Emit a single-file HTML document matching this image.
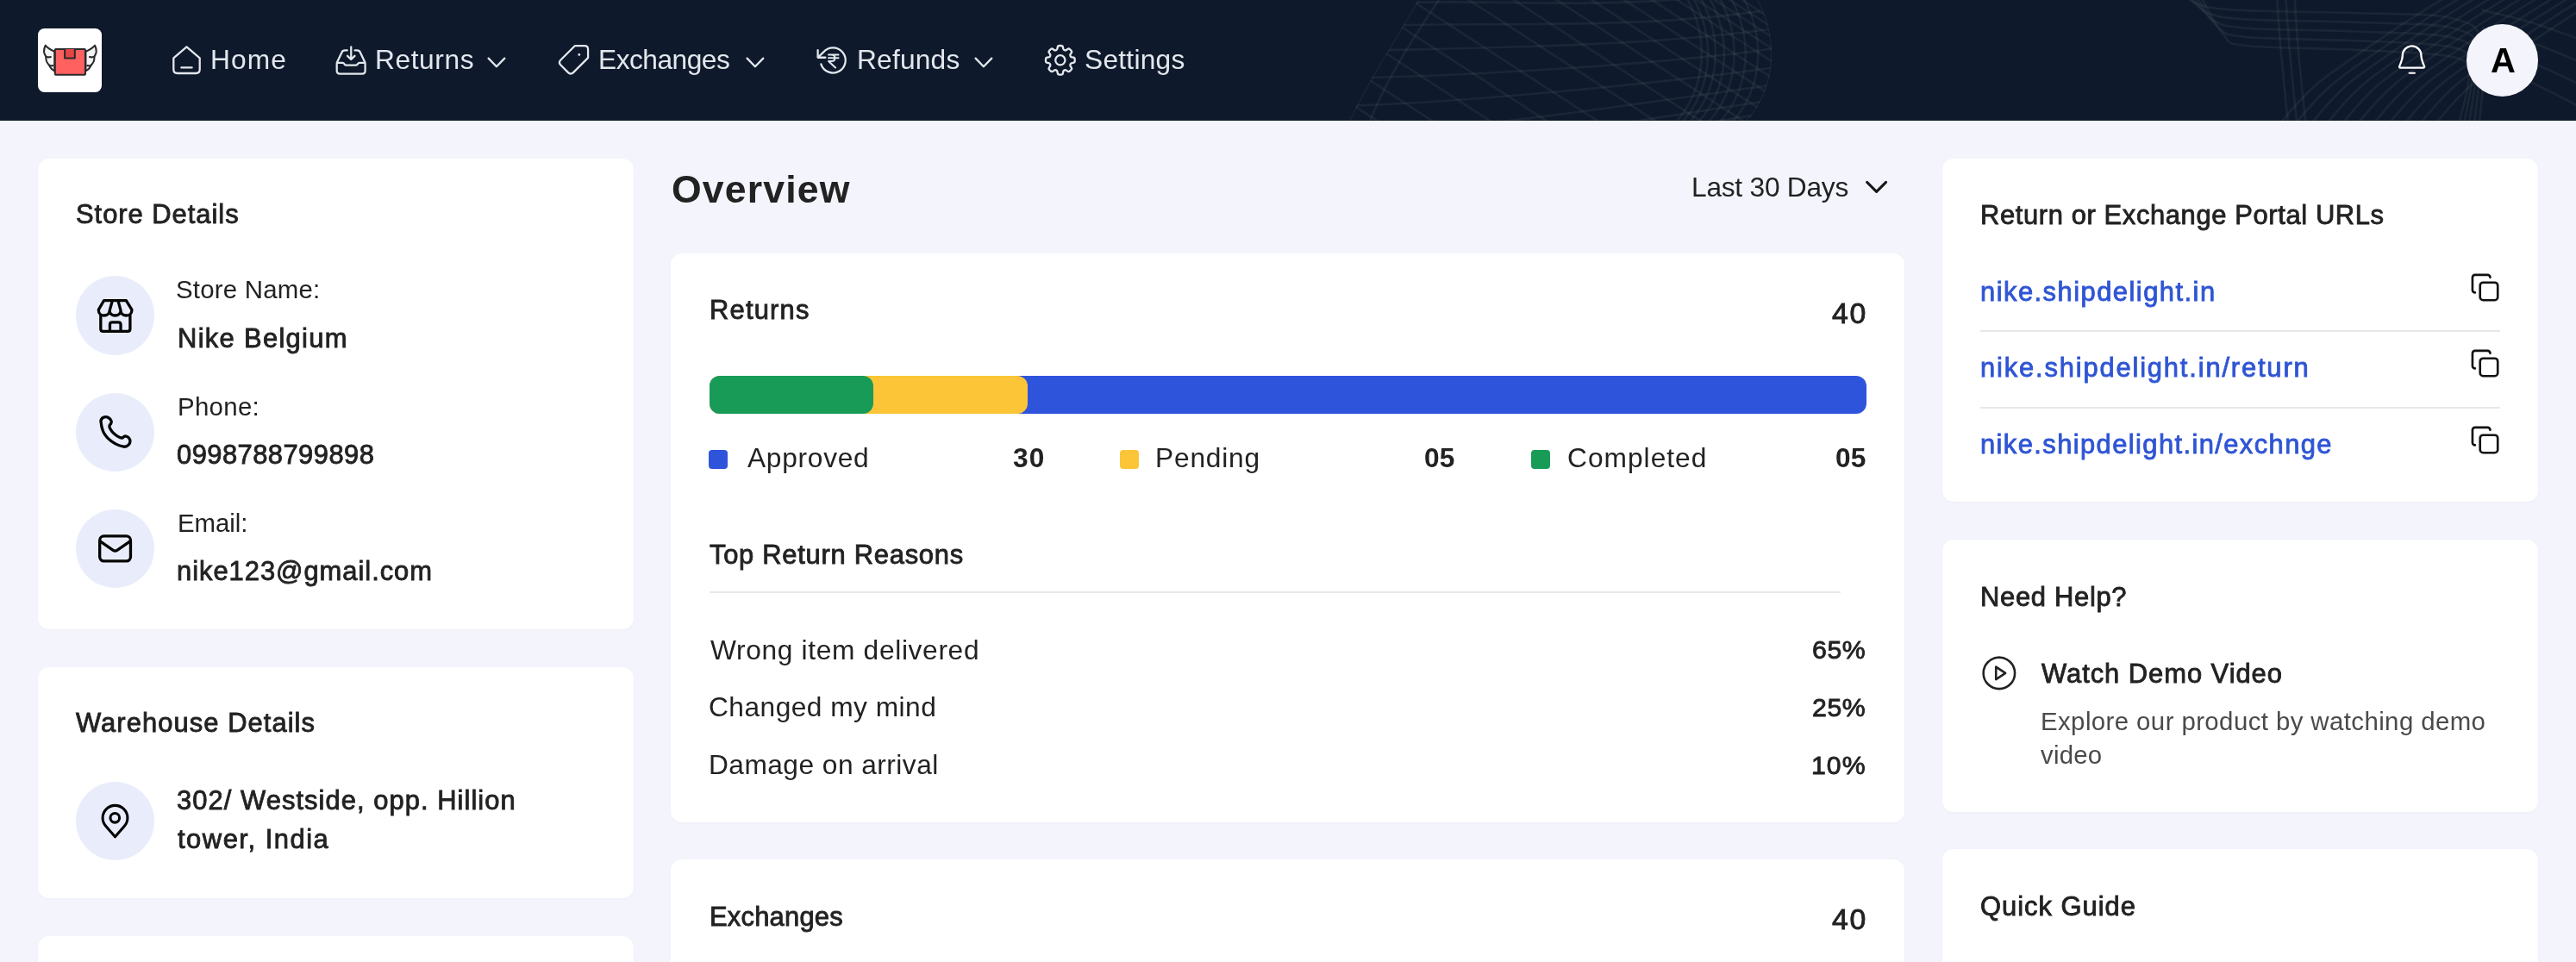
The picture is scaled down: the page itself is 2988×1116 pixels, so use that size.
<!DOCTYPE html>
<html lang="en"><head><meta charset="utf-8"><title>Dashboard</title>
<style>
*{box-sizing:border-box;margin:0;padding:0}
html,body{width:2988px;height:1116px;overflow:hidden;background:#f3f4fc;font-family:"Liberation Sans",sans-serif}
#page{position:relative;width:2988px;height:1116px;overflow:hidden;background:#f3f4fc}
.t{will-change:transform;position:absolute;white-space:nowrap;line-height:1;font-family:"Liberation Sans",sans-serif}
.card{position:absolute;background:#fff;border-radius:13px;box-shadow:0 1px 4px rgba(20,30,60,0.025)}
.abs{position:absolute}
nav{position:absolute;left:0;top:0;width:2988px;height:140px;background:#0e1a2b;overflow:hidden}
.ic{position:absolute;border-radius:50%;background:#e9edfb}
.hr{position:absolute;height:2px;background:#e8e8e8}
svg{position:absolute;overflow:visible}
</style></head><body><div id="page">
<nav>
<svg style="left:0;top:0" width="2988" height="140" viewBox="0 0 2988 140" fill="none" stroke="#ffffff" stroke-opacity="0.05" stroke-width="2.7"><clipPath id="c1"><path d="M1562.6 145.6 C1584.4 96.1 1620.8 43.7 1647.0 -4.4 L2037.1 -4.4 C2070.6 55.3 2053.1 116.4 2021.1 145.6 Z"/></clipPath><g clip-path="url(#c1)"><path d="M1358.2 -15.1 L1614.8 151.4"/><path d="M1422.0 -15.1 L1678.6 151.4"/><path d="M1488.9 -15.1 L1745.6 151.4"/><path d="M1554.1 -15.1 L1810.8 151.4"/><path d="M1613.5 -15.1 L1870.2 151.4"/><path d="M1680.5 -15.1 L1937.1 151.4"/><path d="M1732.9 -15.1 L1989.5 151.4"/><path d="M1782.4 -15.1 L2039.0 151.4"/><path d="M1823.1 -15.1 L2079.8 151.4"/><path d="M1861.0 -15.1 L2117.6 151.4"/><path d="M1893.0 -15.1 L2149.6 151.4"/><path d="M1922.1 -15.1 L2178.7 151.4"/><path d="M1945.4 -15.1 L2202.0 151.4"/><path d="M1965.8 -15.1 L2222.4 151.4"/><path d="M1983.3 -15.1 L2239.9 151.4"/><path d="M1997.8 -15.1 L2254.4 151.4"/><path d="M1639.7 2.9 C1756.2 0.0 1875.5 11.6 2021.1 -8.7"/><path d="M1622.3 29.1 C1738.7 26.2 1895.9 33.5 2041.5 13.1"/><path d="M1601.9 58.2 C1718.3 55.3 1910.5 53.9 2056.0 33.5"/><path d="M1584.4 90.2 C1700.9 87.3 1920.7 75.7 2066.2 55.3"/><path d="M1569.9 122.3 C1686.3 119.4 1922.1 97.5 2067.7 77.1"/><path d="M1558.2 157.2 C1674.7 154.3 1917.8 117.9 2063.3 97.5"/><path d="M1721.3 157.2 C1837.7 154.3 1910.5 136.8 2056.0 116.4"/><path d="M1887.2 157.2 C2003.6 154.3 1898.8 152.8 2044.4 132.5"/><path d="M2037.1 -4.4 C2070.6 55.3 2053.1 116.4 2021.1 145.6"/><path d="M2021.1 -4.4 C2054.6 55.3 2037.1 116.4 2005.1 145.6"/><path d="M2006.6 -4.4 C2040.0 55.3 2022.6 116.4 1990.5 145.6"/><path d="M1993.4 -4.4 C2026.9 55.3 2009.5 116.4 1977.4 145.6"/><path d="M1981.8 -4.4 C2015.3 55.3 1997.8 116.4 1965.8 145.6"/><path d="M1971.6 -4.4 C2005.1 55.3 1987.6 116.4 1955.6 145.6"/><path d="M1962.9 -4.4 C1996.4 55.3 1978.9 116.4 1946.9 145.6"/><path d="M1955.6 -4.4 C1989.1 55.3 1971.6 116.4 1939.6 145.6"/><path d="M1562.6 145.6 C1584.4 96.1 1620.8 43.7 1647.0 -4.4"/><path d="M1587.3 145.6 C1604.8 96.1 1639.7 43.7 1671.8 -4.4"/></g><path d="M2530.6 -7.3 C2534.5 -5.0 2541.5 3.2 2553.9 6.4 C2566.2 9.7 2575.0 10.8 2604.8 12.2 C2634.7 13.7 2693.1 13.7 2732.9 15.1 C2772.7 16.6 2819.0 15.0 2843.5 21.0 C2868.0 26.9 2874.6 29.9 2879.9 50.9 C2885.3 72.0 2876.3 131.0 2875.6 147.0"/><path d="M2535.7 -7.3 C2539.7 -3.6 2548.5 9.6 2560.0 14.6 C2571.5 19.5 2576.0 20.5 2604.8 22.4 C2633.6 24.3 2693.1 24.2 2732.9 25.8 C2772.7 27.5 2819.7 26.5 2843.5 32.2 C2867.4 37.9 2871.5 41.0 2875.8 60.1 C2880.2 79.3 2870.5 132.5 2869.4 147.0"/><path d="M2540.8 -7.3 C2545.0 -2.3 2555.4 16.1 2566.1 22.7 C2576.8 29.4 2577.0 30.3 2604.8 32.6 C2632.6 34.9 2693.1 34.7 2732.9 36.5 C2772.7 38.3 2820.4 37.9 2843.5 43.4 C2866.7 48.8 2868.5 52.0 2871.8 69.3 C2875.1 86.6 2864.7 134.1 2863.3 147.0"/><path d="M2545.9 -7.3 C2550.3 -0.9 2562.4 22.5 2572.2 30.9 C2582.0 39.2 2578.0 40.1 2604.8 42.8 C2631.6 45.5 2693.1 45.3 2732.9 47.2 C2772.7 49.2 2821.1 49.4 2843.5 54.6 C2866.0 59.8 2865.4 63.1 2867.7 78.5 C2870.0 93.9 2859.0 135.6 2857.2 147.0"/><path d="M2551.0 -7.3 C2555.5 0.4 2569.3 29.0 2578.3 39.0 C2587.3 49.1 2579.0 49.8 2604.8 53.0 C2630.6 56.1 2693.1 55.8 2732.9 57.9 C2772.7 60.1 2821.7 60.8 2843.5 65.8 C2865.3 70.7 2862.4 74.1 2863.6 87.6 C2864.9 101.2 2853.2 137.1 2851.1 147.0"/><path d="M2642.7 145.6 C2650.4 137.3 2666.9 114.5 2689.2 96.1 C2711.6 77.6 2751.3 51.9 2776.6 34.9 C2801.8 18.0 2829.9 1.0 2840.6 -5.8"/><path d="M2660.7 145.6 C2668.5 137.3 2685.0 114.5 2707.3 96.1 C2729.6 77.6 2769.4 51.9 2794.6 34.9 C2819.9 18.0 2848.0 1.0 2858.7 -5.8"/><path d="M2678.8 145.6 C2686.5 137.3 2703.0 114.5 2725.3 96.1 C2747.7 77.6 2787.4 51.9 2812.7 34.9 C2837.9 18.0 2866.0 1.0 2876.7 -5.8"/><path d="M2696.8 145.6 C2704.6 137.3 2721.1 114.5 2743.4 96.1 C2765.7 77.6 2805.5 51.9 2830.7 34.9 C2856.0 18.0 2884.1 1.0 2894.8 -5.8"/><path d="M2714.9 145.6 C2722.6 137.3 2739.1 114.5 2761.4 96.1 C2783.8 77.6 2823.5 51.9 2848.8 34.9 C2874.0 18.0 2902.1 1.0 2912.8 -5.8"/><path d="M2732.9 145.6 C2740.7 137.3 2757.2 114.5 2779.5 96.1 C2801.8 77.6 2841.6 51.9 2866.8 34.9 C2892.1 18.0 2920.2 1.0 2930.9 -5.8"/><path d="M2751.0 145.6 C2758.7 137.3 2775.2 114.5 2797.5 96.1 C2819.9 77.6 2859.6 51.9 2884.9 34.9 C2910.1 18.0 2938.2 1.0 2948.9 -5.8"/><path d="M2769.0 145.6 C2776.8 137.3 2793.3 114.5 2815.6 96.1 C2837.9 77.6 2877.7 51.9 2902.9 34.9 C2928.2 18.0 2956.3 1.0 2967.0 -5.8"/><path d="M2787.1 145.6 C2794.8 137.3 2811.3 114.5 2833.6 96.1 C2856.0 77.6 2895.7 51.9 2921.0 34.9 C2946.2 18.0 2974.3 1.0 2985.0 -5.8"/><path d="M2805.1 145.6 C2812.9 137.3 2829.4 114.5 2851.7 96.1 C2874.0 77.6 2913.8 51.9 2939.0 34.9 C2964.2 18.0 2992.4 1.0 3003.1 -5.8"/><path d="M2823.2 145.6 C2830.9 137.3 2847.4 114.5 2869.7 96.1 C2892.1 77.6 2931.8 51.9 2957.1 34.9 C2982.3 18.0 3010.4 1.0 3021.1 -5.8"/><path d="M2641.2 -2.9 C2641.9 7.3 2643.4 33.5 2645.6 58.2 C2647.8 83.0 2652.8 131.0 2654.3 145.6"/><path d="M2651.4 -2.9 C2652.1 7.3 2653.6 33.5 2655.8 58.2 C2657.9 83.0 2663.0 131.0 2664.5 145.6"/><path d="M2661.6 -2.9 C2662.3 7.3 2663.8 33.5 2665.9 58.2 C2668.1 83.0 2673.2 131.0 2674.7 145.6"/><path d="M2878.5 11.6 C2888.2 14.1 2917.3 20.4 2936.7 26.2 C2956.1 32.0 2985.2 43.2 2994.9 46.6"/><path d="M2878.5 32.0 C2888.2 34.9 2917.3 42.7 2936.7 49.5 C2956.1 56.3 2985.2 68.9 2994.9 72.8"/><path d="M2878.5 52.4 C2888.2 55.8 2917.3 65.0 2936.7 72.8 C2956.1 80.5 2985.2 94.6 2994.9 99.0"/><path d="M2878.5 72.8 C2888.2 76.7 2917.3 87.3 2936.7 96.1 C2956.1 104.8 2985.2 120.3 2994.9 125.2"/></svg>
</nav>
<div class="abs" style="left:43.8px;top:32.8px;width:74.4px;height:74.4px;border-radius:7.5px;background:#fff"></div>
<svg style="left:36px;top:25px" width="100" height="100" viewBox="0 0 1068.900 1068.900"><g stroke="#2a2a2c" stroke-width="22" stroke-linejoin="round" stroke-linecap="round"><path d="M292 372 C250 352 205 326 178 296 C150 352 160 400 186 436 C180 472 196 512 226 542 C238 572 262 600 292 612 Z" fill="#f3f3f3"/><path d="M186 436 C206 443 226 444 244 438 M226 542 C242 548 258 550 272 546" fill="none"/><g transform="translate(970,0) scale(-1,1)"><path d="M292 372 C250 352 205 326 178 296 C150 352 160 400 186 436 C180 472 196 512 226 542 C238 572 262 600 292 612 Z" fill="#f3f3f3"/><path d="M186 436 C206 443 226 444 244 438 M226 542 C242 548 258 550 272 546" fill="none"/></g><rect x="297" y="342" width="376" height="318" rx="10" fill="#ff6060"/><path d="M418 342 L418 455 L543 455 L543 342" fill="#e64646"/><rect x="440" y="360" width="82" height="76" fill="#e64646" stroke="none"/></g></svg>
<svg style="left:0;top:0" width="300" height="140" fill="none" stroke="#e3e7ee" stroke-width="2.3" stroke-linecap="round" stroke-linejoin="round"><path d="M216.5 54.3 L231.7 67.3 L231.7 80.6 Q231.7 85 227.3 85 L205.7 85 Q201.3 85 201.3 80.6 L201.3 67.3 Z"/><path d="M210.4 78.4 L222.6 78.4"/></svg>
<svg style="left:380px;top:40px" width="100" height="100" viewBox="0 0 990.800 990.800"><path d="M225 183 L200 183 Q172 183 162 208 L110 318 Q106 328 106 340 L106 415 Q106 451 142 451 L396 451 Q432 451 432 415 L432 340 Q432 328 428 318 L376 208 Q366 183 338 183 L313 183 M106 326 L172 326 Q184 326 190 336 L198 346 Q203 352 214 352 L324 352 Q335 352 340 346 L348 336 Q354 326 366 326 L432 326 M270 142 L270 286 M228 246 L270 288 L312 246" fill="none" stroke="#e3e7ee" stroke-width="22.5" stroke-linecap="round" stroke-linejoin="round"/></svg>
<svg style="left:640px;top:40px" width="100" height="100" viewBox="0 0 990.800 990.800"><path d="M262.2 133.8 Q265.0 131.0 269.0 131.0 L377.0 131.0 Q417.0 131.0 417.0 171.0 L417.0 264.0 Q417.0 268.0 414.2 270.8 L247.7 437.3 Q218.0 467.0 188.3 437.3 L103.2 352.2 Q73.5 322.5 103.2 292.8 Z" fill="none" stroke="#e3e7ee" stroke-width="22.5" stroke-linejoin="round"/><circle cx="315" cy="232" r="14" fill="#e3e7ee"/></svg>
<svg style="left:935px;top:40px" width="100" height="100" viewBox="0 0 990.800 990.800"><g fill="none" stroke="#e3e7ee" stroke-linecap="round" stroke-linejoin="round"><path d="M135 265 L198 205 A144 144 0 1 1 172 340 M135 180 L135 265 L222 265" stroke-width="22.5"/><path d="M258 232 H372 M258 270 H372 M258 232 H292 C345 232 345 308 292 308 H258 L338 382" stroke-width="20"/></g></svg>
<svg style="left:1213.40px;top:53.20px" width="33.70" height="33.60" viewBox="3 3 18 18" preserveAspectRatio="none" fill="none" stroke="#e3e7ee" stroke-width="2.3" stroke-linecap="round" stroke-linejoin="round"><path d="M10.343 3.94c.09-.542.56-.94 1.11-.94h1.093c.55 0 1.02.398 1.11.94l.149.894c.07.424.384.764.78.93.398.164.855.142 1.205-.108l.737-.527a1.125 1.125 0 0 1 1.45.12l.773.774c.39.389.44 1.002.12 1.45l-.527.737c-.25.35-.272.806-.107 1.204.165.397.505.71.93.78l.893.15c.543.09.94.559.94 1.109v1.094c0 .55-.397 1.02-.94 1.11l-.894.149c-.424.07-.764.383-.929.78-.165.398-.143.854.107 1.204l.527.738c.32.447.269 1.06-.12 1.45l-.774.773a1.125 1.125 0 0 1-1.449.12l-.738-.527c-.35-.25-.806-.272-1.203-.107-.398.165-.71.505-.781.929l-.149.894c-.09.542-.56.94-1.11.94h-1.094c-.55 0-1.019-.398-1.11-.94l-.148-.894c-.071-.424-.384-.764-.781-.93-.398-.164-.854-.142-1.204.108l-.738.527c-.447.32-1.06.269-1.45-.12l-.773-.774a1.125 1.125 0 0 1-.12-1.45l.527-.737c.25-.35.272-.806.108-1.204-.165-.397-.506-.71-.93-.78l-.894-.15c-.542-.09-.94-.56-.94-1.109v-1.094c0-.55.398-1.02.94-1.11l.894-.149c.424-.07.765-.383.93-.78.165-.398.143-.854-.108-1.204l-.526-.738a1.125 1.125 0 0 1 .12-1.45l.773-.773a1.125 1.125 0 0 1 1.45-.12l.737.527c.35.25.807.272 1.204.107.397-.165.71-.505.78-.929l.15-.894Z" vector-effect="non-scaling-stroke"/><path d="M15 12a3 3 0 1 1-6 0 3 3 0 0 1 6 0Z" vector-effect="non-scaling-stroke"/></svg>
<svg style="left:560.0px;top:60px" width="32" height="24" fill="none" stroke="#e3e7ee" stroke-width="2.3" stroke-linecap="round" stroke-linejoin="round"><path d="M6.6 7.6 L15.9 17.2 L25.3 7.6"/></svg>
<svg style="left:859.9px;top:60px" width="32" height="24" fill="none" stroke="#e3e7ee" stroke-width="2.3" stroke-linecap="round" stroke-linejoin="round"><path d="M6.6 7.6 L15.9 17.2 L25.3 7.6"/></svg>
<svg style="left:1124.6px;top:60px" width="32" height="24" fill="none" stroke="#e3e7ee" stroke-width="2.3" stroke-linecap="round" stroke-linejoin="round"><path d="M6.6 7.6 L15.9 17.2 L25.3 7.6"/></svg>
<svg style="left:2760px;top:20px" width="100" height="100" viewBox="0 0 962.000 962.000"><path d="M237 563 L487 563 Q507 563 500 545 C484 508 466 470 466 426 A104 104 0 0 0 258 426 C258 470 240 508 224 545 Q217 563 237 563 Z" fill="none" stroke="#fff" stroke-width="22" stroke-linejoin="round"/><path d="M333 623 L393 623" stroke="#fff" stroke-width="21" stroke-linecap="round"/></svg>
<span class="t" style="left:244.10px;top:53.55px;font-size:31.7px;font-weight:normal;color:#e3e7ee;letter-spacing:1.140px;">Home</span>
<span class="t" style="left:435.40px;top:53.55px;font-size:31.7px;font-weight:normal;color:#e3e7ee;letter-spacing:0.600px;">Returns</span>
<span class="t" style="left:694.00px;top:53.55px;font-size:31.7px;font-weight:normal;color:#e3e7ee;letter-spacing:-0.502px;">Exchanges</span>
<span class="t" style="left:994.20px;top:53.55px;font-size:31.7px;font-weight:normal;color:#e3e7ee;letter-spacing:0.210px;">Refunds</span>
<span class="t" style="left:1257.60px;top:53.55px;font-size:31.7px;font-weight:normal;color:#e3e7ee;letter-spacing:0.257px;">Settings</span>
<div class="abs" style="left:2861px;top:28.2px;width:83.4px;height:83.4px;border-radius:50%;background:#f3f4fc"></div>
<span class="t" style="left:2889.30px;top:50.20px;font-size:40px;font-weight:bold;color:#000;letter-spacing:0.000px;">A</span>
<div class="card" style="left:44px;top:184px;width:691px;height:546px"></div>
<span class="t" style="left:87.50px;top:234.03px;font-size:30.91px;font-weight:normal;color:#222222;letter-spacing:0.978px;-webkit-text-stroke:0.85px #222222;">Store Details</span>
<div class="ic" style="left:87.7px;top:320.4px;width:91.5px;height:91.5px"></div>
<span class="t" style="left:204.20px;top:321.31px;font-size:29.4px;font-weight:normal;color:#222222;letter-spacing:0.216px;">Store Name:</span>
<span class="t" style="left:205.90px;top:377.63px;font-size:30.91px;font-weight:normal;color:#222222;letter-spacing:1.309px;-webkit-text-stroke:0.85px #222222;">Nike Belgium</span>
<div class="ic" style="left:87.7px;top:455.6px;width:91.5px;height:91.5px"></div>
<span class="t" style="left:205.70px;top:456.51px;font-size:29.4px;font-weight:normal;color:#222222;letter-spacing:0.324px;">Phone:</span>
<span class="t" style="left:205.40px;top:512.83px;font-size:30.91px;font-weight:normal;color:#222222;letter-spacing:0.450px;-webkit-text-stroke:0.85px #222222;">0998788799898</span>
<div class="ic" style="left:87.7px;top:590.8px;width:91.5px;height:91.5px"></div>
<span class="t" style="left:205.70px;top:591.71px;font-size:29.4px;font-weight:normal;color:#222222;letter-spacing:-0.036px;">Email:</span>
<span class="t" style="left:205.40px;top:648.03px;font-size:30.91px;font-weight:normal;color:#222222;letter-spacing:0.972px;-webkit-text-stroke:0.85px #222222;">nike123@gmail.com</span>
<div class="card" style="left:44px;top:774px;width:691px;height:268px"></div>
<span class="t" style="left:87.90px;top:824.43px;font-size:30.91px;font-weight:normal;color:#222222;letter-spacing:1.064px;-webkit-text-stroke:0.85px #222222;">Warehouse Details</span>
<div class="ic" style="left:87.7px;top:906.7px;width:91.5px;height:91.5px"></div>
<span class="t" style="left:205.20px;top:914.43px;font-size:30.91px;font-weight:normal;color:#222222;letter-spacing:1.051px;-webkit-text-stroke:0.85px #222222;">302/ Westside, opp. Hillion</span>
<span class="t" style="left:206.20px;top:958.93px;font-size:30.91px;font-weight:normal;color:#222222;letter-spacing:1.516px;-webkit-text-stroke:0.85px #222222;">tower, India</span>
<svg style="left:80px;top:310px" width="100" height="100" viewBox="0 0 874.500 874.500"><g fill="none" stroke="#050505" stroke-width="29" stroke-linecap="round" stroke-linejoin="round"><path d="M300 432 L355 337 L580 337 L638 432 C638 470 612 490 582 490 C550 490 525 470 525 440 C525 470 500 490 468 490 C436 490 412 470 412 440 C412 470 386 490 355 490 C325 490 300 470 300 432 Z M440 340 L413 438 M498 340 L525 438 M322 482 L322 625 Q322 650 347 650 L595 650 Q620 650 620 625 L620 482 M415 650 L415 582 Q415 558 439 558 L501 558 Q525 558 525 582 L525 650"/></g></svg>
<svg style="left:80px;top:445px" width="100" height="100" viewBox="0 0 874.500 874.500"><g fill="none" stroke="#050505" stroke-width="29" stroke-linecap="round" stroke-linejoin="round"><path d="M325 395 C315 350 365 325 400 345 C435 365 440 395 415 420 C400 435 425 480 460 510 C495 540 525 555 545 550 C565 520 605 535 618 570 C630 610 590 645 555 640 C500 630 440 600 390 550 C350 510 330 450 325 395 Z"/></g></svg>
<svg style="left:80px;top:580px" width="100" height="100" viewBox="0 0 874.500 874.500"><g fill="none" stroke="#050505" stroke-width="29" stroke-linecap="round" stroke-linejoin="round"><rect x="312" y="367" width="313" height="253" rx="42" /><path d="M316 418 L448 510 Q468 524 488 510 L621 418"/></g></svg>
<svg style="left:80px;top:897px" width="100" height="100" viewBox="0 0 874.500 874.500"><g fill="none" stroke="#050505" stroke-width="27" stroke-linecap="round" stroke-linejoin="round"><path d="M468 645 L372.9 535.7 A126 126 0 1 1 563.1 535.7 Z"/><circle cx="466" cy="453" r="46.5"/></g></svg>
<div class="card" style="left:44px;top:1086px;width:691px;height:200px"></div>
<span class="t" style="left:778.80px;top:198.19px;font-size:44.6px;font-weight:bold;color:#222222;letter-spacing:1.158px;">Overview</span>
<span class="t" style="left:1961.80px;top:201.56px;font-size:31.7px;font-weight:normal;color:#222222;letter-spacing:-0.240px;">Last 30 Days</span>
<svg style="left:2160px;top:200px" width="36" height="32" fill="none" stroke="#161616" stroke-width="3" stroke-linecap="round" stroke-linejoin="round"><path d="M5.6 11.4 L16.6 22.4 L27.6 11.4"/></svg>
<div class="card" style="left:778px;top:294.4px;width:1431px;height:659.4px"></div>
<span class="t" style="left:822.50px;top:344.53px;font-size:30.91px;font-weight:normal;color:#222222;letter-spacing:1.200px;-webkit-text-stroke:0.85px #222222;">Returns</span>
<span class="t" style="right:822.00px;top:347.24px;font-size:33.83px;font-weight:normal;color:#222222;letter-spacing:1.800px;-webkit-text-stroke:0.85px #222222;">40</span>
<div class="abs" style="left:822.5px;top:435.6px;width:1342.5px;height:44px;border-radius:12px;background:#2f54dc"></div>
<div class="abs" style="left:822.5px;top:435.6px;width:369.5px;height:44px;border-radius:12px;background:#fbc537"></div>
<div class="abs" style="left:822.5px;top:435.6px;width:190.2px;height:44px;border-radius:12px;background:#199b58"></div>
<div class="abs" style="left:822.20px;top:521.9px;width:21.9px;height:21.9px;border-radius:4px;background:#2f54dc"></div>
<span class="t" style="left:866.50px;top:516.25px;font-size:31.7px;font-weight:normal;color:#222222;letter-spacing:0.723px;">Approved</span>
<span class="t" style="right:1776.00px;top:516.25px;font-size:31.7px;font-weight:bold;color:#222222;letter-spacing:1.080px;">30</span>
<div class="abs" style="left:1298.95px;top:521.9px;width:21.9px;height:21.9px;border-radius:4px;background:#fbc537"></div>
<span class="t" style="left:1340.25px;top:516.25px;font-size:31.7px;font-weight:normal;color:#222222;letter-spacing:0.810px;">Pending</span>
<span class="t" style="right:1300.25px;top:516.25px;font-size:31.7px;font-weight:bold;color:#222222;letter-spacing:0.180px;">05</span>
<div class="abs" style="left:1775.70px;top:521.9px;width:21.9px;height:21.9px;border-radius:4px;background:#199b58"></div>
<span class="t" style="left:1818.00px;top:516.25px;font-size:31.7px;font-weight:normal;color:#222222;letter-spacing:1.012px;">Completed</span>
<span class="t" style="right:823.00px;top:516.25px;font-size:31.7px;font-weight:bold;color:#222222;letter-spacing:0.180px;">05</span>
<span class="t" style="left:822.70px;top:629.23px;font-size:30.91px;font-weight:normal;color:#222222;letter-spacing:0.726px;-webkit-text-stroke:0.85px #222222;">Top Return Reasons</span>
<div class="hr" style="left:822.6px;top:685.7px;width:1312.4px"></div>
<span class="t" style="left:823.50px;top:738.55px;font-size:31.7px;font-weight:normal;color:#222222;letter-spacing:0.669px;">Wrong item delivered</span>
<span class="t" style="right:824.00px;top:739.21px;font-size:30.22px;font-weight:normal;color:#222222;letter-spacing:0.585px;-webkit-text-stroke:0.85px #222222;">65%</span>
<span class="t" style="left:822.00px;top:805.45px;font-size:31.7px;font-weight:normal;color:#222222;letter-spacing:0.476px;">Changed my mind</span>
<span class="t" style="right:824.00px;top:806.11px;font-size:30.22px;font-weight:normal;color:#222222;letter-spacing:0.585px;-webkit-text-stroke:0.85px #222222;">25%</span>
<span class="t" style="left:822.00px;top:872.35px;font-size:31.7px;font-weight:normal;color:#222222;letter-spacing:0.460px;">Damage on arrival</span>
<span class="t" style="right:823.00px;top:873.01px;font-size:30.22px;font-weight:normal;color:#222222;letter-spacing:1.035px;-webkit-text-stroke:0.85px #222222;">10%</span>
<div class="card" style="left:778px;top:997px;width:1431px;height:300px"></div>
<span class="t" style="left:823.00px;top:1049.13px;font-size:30.91px;font-weight:normal;color:#222222;letter-spacing:0.217px;-webkit-text-stroke:0.85px #222222;">Exchanges</span>
<span class="t" style="right:822.00px;top:1050.04px;font-size:33.83px;font-weight:normal;color:#222222;letter-spacing:1.800px;-webkit-text-stroke:0.85px #222222;">40</span>
<div class="card" style="left:2253px;top:184px;width:691px;height:398px"></div>
<span class="t" style="left:2297.00px;top:235.43px;font-size:30.91px;font-weight:normal;color:#222222;letter-spacing:0.620px;-webkit-text-stroke:0.85px #222222;">Return or Exchange Portal URLs</span>
<span class="t" style="left:2297.00px;top:323.73px;font-size:30.91px;font-weight:normal;color:#2f55d4;letter-spacing:1.465px;-webkit-text-stroke:0.85px #2f55d4;">nike.shipdelight.in</span>
<div class="hr" style="left:2297px;top:383.0px;width:603px"></div>
<span class="t" style="left:2297.00px;top:412.23px;font-size:30.91px;font-weight:normal;color:#2f55d4;letter-spacing:1.827px;-webkit-text-stroke:0.85px #2f55d4;">nike.shipdelight.in/return</span>
<div class="hr" style="left:2297px;top:471.5px;width:603px"></div>
<span class="t" style="left:2297.00px;top:500.73px;font-size:30.91px;font-weight:normal;color:#2f55d4;letter-spacing:1.400px;-webkit-text-stroke:0.85px #2f55d4;">nike.shipdelight.in/exchnge</span>
<svg style="left:2864.9px;top:315.8px" width="35.15" height="35.15" viewBox="0 0 24 24" fill="none" stroke="#111" stroke-width="1.8" stroke-linecap="round" stroke-linejoin="round"><rect x="8" y="8" width="14" height="14" rx="2.4"/><path d="M4 16c-1.1 0-2-.9-2-2V4c0-1.1.9-2 2-2h10c1.1 0 2 .9 2 2"/></svg>
<svg style="left:2864.9px;top:404.3px" width="35.15" height="35.15" viewBox="0 0 24 24" fill="none" stroke="#111" stroke-width="1.8" stroke-linecap="round" stroke-linejoin="round"><rect x="8" y="8" width="14" height="14" rx="2.4"/><path d="M4 16c-1.1 0-2-.9-2-2V4c0-1.1.9-2 2-2h10c1.1 0 2 .9 2 2"/></svg>
<svg style="left:2864.9px;top:492.8px" width="35.15" height="35.15" viewBox="0 0 24 24" fill="none" stroke="#111" stroke-width="1.8" stroke-linecap="round" stroke-linejoin="round"><rect x="8" y="8" width="14" height="14" rx="2.4"/><path d="M4 16c-1.1 0-2-.9-2-2V4c0-1.1.9-2 2-2h10c1.1 0 2 .9 2 2"/></svg>
<div class="card" style="left:2253px;top:625.6px;width:691px;height:316.4px"></div>
<span class="t" style="left:2296.90px;top:678.23px;font-size:30.91px;font-weight:normal;color:#222222;letter-spacing:0.700px;-webkit-text-stroke:0.85px #222222;">Need Help?</span>
<svg style="left:2296.6px;top:758.5px" width="43.75" height="43.75" viewBox="0 0 24 24" fill="none" stroke="#222" stroke-width="1.4" stroke-linecap="round" stroke-linejoin="round"><circle cx="12" cy="12" r="10"/><polygon points="10 8 16 12 10 16 10 8"/></svg>
<span class="t" style="left:2367.50px;top:767.43px;font-size:30.91px;font-weight:normal;color:#222222;letter-spacing:0.960px;-webkit-text-stroke:0.85px #222222;">Watch Demo Video</span>
<span class="t" style="left:2366.50px;top:821.81px;font-size:29.4px;font-weight:normal;color:#4a4a4a;letter-spacing:0.412px;">Explore our product by watching demo</span>
<span class="t" style="left:2367.40px;top:861.01px;font-size:29.4px;font-weight:normal;color:#4a4a4a;letter-spacing:0.225px;">video</span>
<div class="card" style="left:2253px;top:985px;width:691px;height:300px"></div>
<span class="t" style="left:2297.10px;top:1036.63px;font-size:30.91px;font-weight:normal;color:#222222;letter-spacing:0.990px;-webkit-text-stroke:0.85px #222222;">Quick Guide</span>
</div></body></html>
